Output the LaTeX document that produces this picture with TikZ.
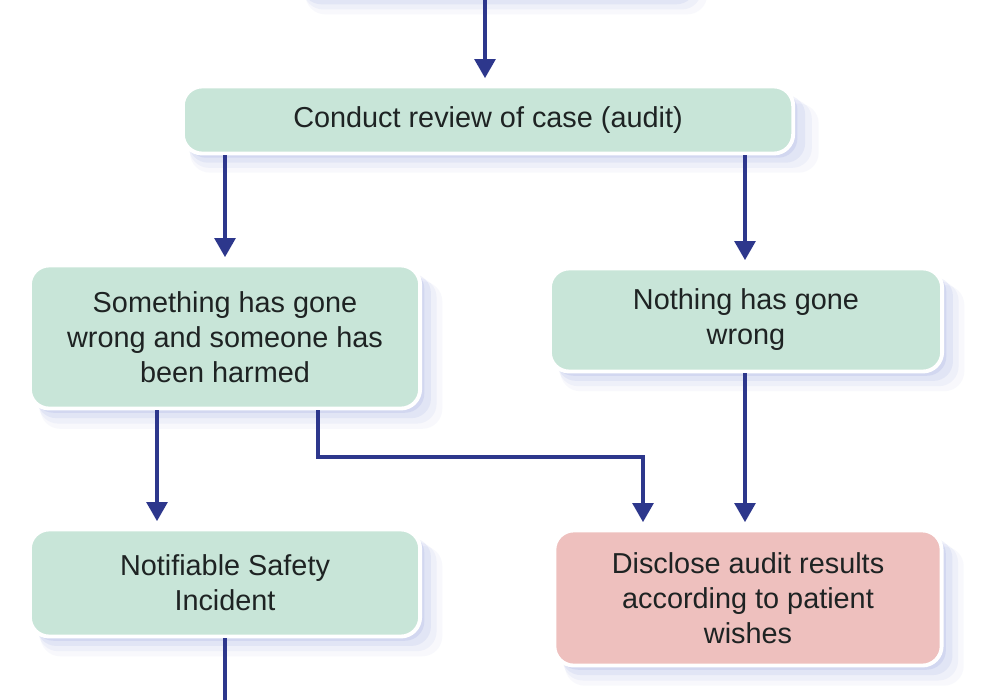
\documentclass[tikz,border=0pt]{standalone}
\usepackage{fontspec}
\setmainfont{Liberation Sans}
\usetikzlibrary{arrows.meta,shadows}
\definecolor{mint}{RGB}{200,229,216}
\definecolor{pinkbox}{RGB}{238,192,190}
\definecolor{navy}{RGB}{45,55,140}
\definecolor{shadowc}{RGB}{120,135,215}
\definecolor{txt}{RGB}{30,35,35}
\tikzset{
  softshadow/.style={
    general shadow={fill=shadowc, opacity=.05, shadow xshift=4.5pt, shadow yshift=-5pt, shadow scale=1.03},
    general shadow={fill=shadowc, opacity=.07, shadow xshift=3.5pt, shadow yshift=-3.8pt, shadow scale=1.02},
    general shadow={fill=shadowc, opacity=.10, shadow xshift=2.5pt, shadow yshift=-2.5pt, shadow scale=1.01},
    general shadow={fill=shadowc, opacity=.14, shadow xshift=1.2pt, shadow yshift=-1.2pt}},
  box/.style={softshadow, draw=white, line width=1.1pt, rounded corners=5.5pt,
    fill=mint, align=center, text=txt, inner sep=0pt,
    font=\fontsize{8.2pt}{9.95pt}\selectfont},
  pinkstyle/.style={box, fill=pinkbox},
  arr/.style={draw=navy, line width=1.15pt, -{Triangle[width=5.8pt,length=5.4pt]}, shorten >=1.8pt},
  plain/.style={draw=navy, line width=1.15pt}
}
\begin{document}
\begin{tikzpicture}[x=0.01cm,y=-0.01cm]
\useasboundingbox[fill=white] (0,0) rectangle (1000,700);
\node[box, minimum width=3.9cm, minimum height=0.8cm] (top) at (490,-45) {};
\node[box, minimum width=6.1cm, minimum height=0.67cm] (c) at (488,120) {Conduct review of case (audit)};
\node[box, minimum width=3.9cm, minimum height=1.43cm] (s) at (225,337) {Something has gone\\wrong and someone has\\been harmed};
\node[box, minimum width=3.92cm, minimum height=1.03cm] (n) at (746,320) {Nothing has gone\\wrong};
\node[box, minimum width=3.9cm, minimum height=1.07cm] (ns) at (225,583) {Notifiable Safety\\Incident};
\node[pinkstyle, minimum width=3.87cm, minimum height=1.35cm] (d) at (748,598) {Disclose audit results\\according to patient\\wishes};
\coordinate (ct) at (485,0);
\coordinate (cl) at (225,0);
\coordinate (cr) at (745,0);
\coordinate (sl) at (157,0);
\coordinate (e1) at (318,457);
\coordinate (e2) at (643,457);
\coordinate (bot) at (225,700);
\draw[arr] (top.south -| ct) -- (c.north -| ct);
\draw[arr] (c.south -| cl) -- (s.north -| cl);
\draw[arr] (c.south -| cr) -- (n.north -| cr);
\draw[arr] (s.south -| sl) -- (ns.north -| sl);
\draw[arr] (s.south -| e1) -- (e1) -- (e2) -- (d.north -| e2);
\draw[arr] (n.south -| cr) -- (d.north -| cr);
\draw[plain] (ns.south) -- (bot);
\end{tikzpicture}
\end{document}
